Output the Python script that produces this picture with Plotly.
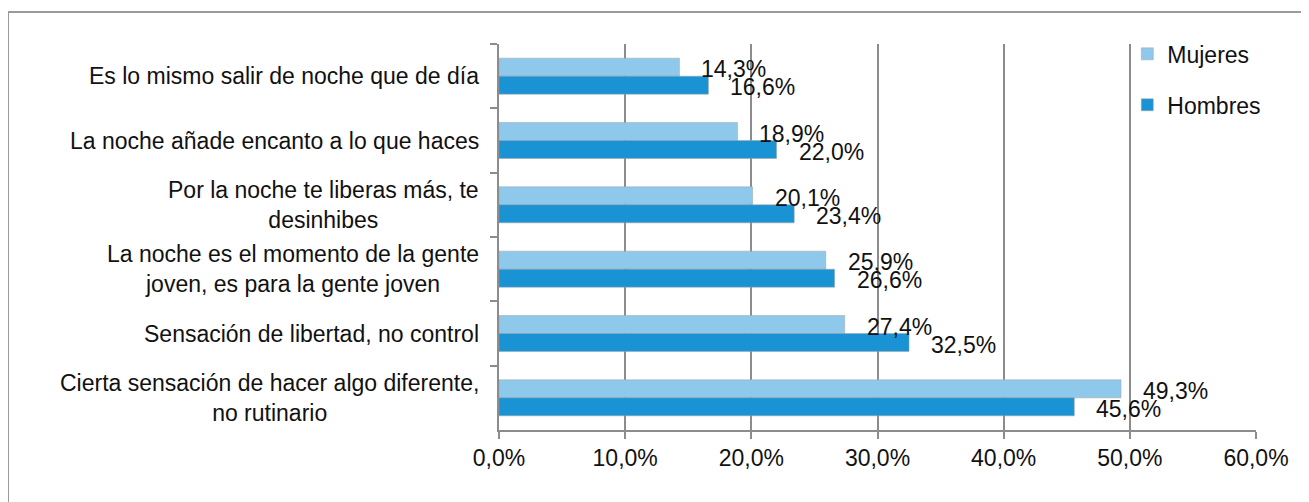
import plotly.graph_objects as go

categories = [
    "Es lo mismo salir de noche que de día",
    "La noche añade encanto a lo que haces",
    "Por la noche te liberas más, te<br>desinhibes",
    "La noche es el momento de la gente<br>joven, es para la gente joven",
    "Sensación de libertad, no control",
    "Cierta sensación de hacer algo diferente,<br>no rutinario",
]
mujeres = [14.3, 18.9, 20.1, 25.9, 27.4, 49.3]
hombres = [16.6, 22.0, 23.4, 26.6, 32.5, 45.6]
tick_vals = [0, 10, 20, 30, 40, 50, 60]
tick_text = ["0,0%", "10,0%", "20,0%", "30,0%", "40,0%", "50,0%", "60,0%"]

C_M = "#8EC9EC"
C_H = "#1A93D4"
GRID = "#8C8C8C"
FONT = "Liberation Sans, Arial, sans-serif"
FS = 23

# page body has an 8px margin; plot area target in page px: x 499..1256, y 44..430
L, T = 491, 36
PW, PH = 757, 386

fig = go.Figure()
fig.add_trace(go.Bar(y=categories, x=mujeres, orientation="h", name="Mujeres",
                     marker=dict(color=C_M, line=dict(color="#A0A0A0", width=0.5)),
                     legendgroup="m"))
fig.add_trace(go.Bar(y=categories, x=hombres, orientation="h", name="Hombres",
                     marker=dict(color=C_H, line=dict(color="#A0A0A0", width=0.5)),
                     legendgroup="h"))

ann = []
def fmt(v):
    return f"{v:.1f}".replace(".", ",") + "%"
for c, m, h in zip(categories, mujeres, hombres):
    ann.append(dict(x=m, y=c, xref="x", yref="y", text=fmt(m), showarrow=False,
                    xanchor="left", yanchor="middle", xshift=20, yshift=7,
                    font=dict(size=FS, color="#111111", family=FONT)))
    ann.append(dict(x=h, y=c, xref="x", yref="y", text=fmt(h), showarrow=False,
                    xanchor="left", yanchor="middle", xshift=20, yshift=-11,
                    font=dict(size=FS, color="#111111", family=FONT)))
    ann.append(dict(x=0, y=c, xref="paper", yref="y", text=c, showarrow=False,
                    xanchor="right", yanchor="middle", align="center", xshift=-18,
                    font=dict(size=FS, color="#111111", family=FONT)))

fig.update_layout(
    width=1309, height=502,
    margin=dict(l=L, r=1309 - L - PW, t=T, b=502 - T - PH),
    paper_bgcolor="white", plot_bgcolor="white",
    barmode="group", bargap=0.44, bargroupgap=0,
    font=dict(family=FONT, size=FS, color="#111111"),
    showlegend=True,
    legend=dict(x=0.83, y=1.03, xanchor="left", yanchor="top",
                bgcolor="rgba(0,0,0,0)", traceorder="grouped", tracegroupgap=18,
                font=dict(size=FS, family=FONT, color="#111111"),
                itemwidth=30),
    annotations=ann,
    shapes=[dict(type="rect", xref="paper", yref="paper",
                 x0=(0 - L) / PW, x1=(1400 - L) / PW,
                 y0=-(600 - T - PH) / PH, y1=(T + PH - 4) / PH,
                 line=dict(color="#9A9A9A", width=2), fillcolor="rgba(0,0,0,0)", layer="below")],
)
fig.update_xaxes(range=[0, 60], tickmode="array", tickvals=tick_vals, ticktext=tick_text,
                 showgrid=True, gridcolor=GRID, gridwidth=1.5,
                 showline=True, linecolor=GRID, linewidth=1.5,
                 ticks="outside", ticklen=7, tickcolor=GRID, tickwidth=1.5,
                 tickfont=dict(size=FS, family=FONT, color="#111111"), zeroline=False)
fig.update_yaxes(autorange="reversed", showticklabels=False,
                 showline=True, linecolor=GRID, linewidth=1.5,
                 ticks="outside", ticklen=7, tickcolor=GRID, tickwidth=1.5,
                 tickson="boundaries", showgrid=False)

fig.write_html("out.html")
